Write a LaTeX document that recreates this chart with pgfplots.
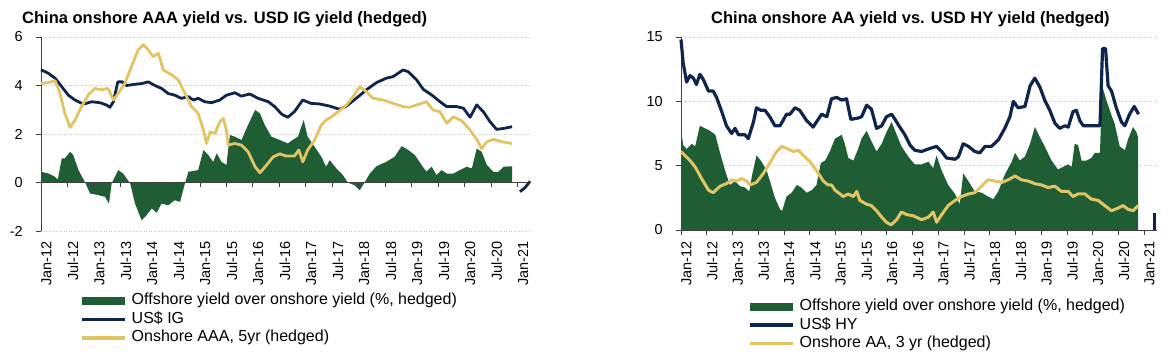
\documentclass[border=0pt]{standalone}
\usepackage{fontspec}
\setmainfont{Liberation Sans}
\usepackage{pgfplots}
\pgfplotsset{compat=1.18}
\definecolor{dgreen}{RGB}{31,94,52}
\definecolor{navy}{RGB}{16,37,77}
\definecolor{gold}{RGB}{227,196,100}
\definecolor{gridc}{RGB}{200,200,200}
\pgfplotsset{
  base/.style={
    scale only axis, anchor=south west, clip=false,
    xmin=0, xmax=111,
    xtick={0,6,...,108},
    xticklabels={Jan-12,Jul-12,Jan-13,Jul-13,Jan-14,Jul-14,Jan-15,Jul-15,Jan-16,Jul-16,Jan-17,Jul-17,Jan-18,Jul-18,Jan-19,Jul-19,Jan-20,Jul-20,Jan-21},
    ymajorgrids, grid style={gridc, dash pattern=on 1pt off 1.5pt, line width=0.8pt},
    tick label style={font=\fontsize{14.5}{16}\selectfont},
    xticklabel style={rotate=90, anchor=north east, inner sep=0pt},
    yticklabel style={anchor=east, inner sep=0pt, xshift=-13pt},
    major tick length=5pt,
    axis line style={black!75, line width=0.8pt, -},
    tick style={black!75, line width=0.8pt},
    legend cell align=left,
    legend style={draw=none, fill=none, inner sep=0pt, row sep=2.5pt, column sep=5pt,
      font=\fontsize{16}{18}\selectfont, anchor=north west,
      nodes={inner sep=0pt, text height=12pt, text depth=4pt}},
  },
  arealeg/.style={legend image code/.code={\fill[dgreen] (0pt,-4pt) rectangle (43pt,4pt);}},
  lineleg/.style={legend image code/.code={\draw[line width=3.5pt] (0pt,0pt) -- (43pt,0pt);}},
}
\begin{document}
\begin{tikzpicture}
\path[use as bounding box] (0,0) rectangle (1175pt,363pt);
% ---------------- Left chart ----------------
\begin{axis}[base, at={(41pt,132pt)}, width=490pt, height=194pt,
  ymin=-2, ymax=6, ytick={-2,0,2,4,6}, yticklabels={-2,0,2,4,6},
  axis x line*=bottom, axis y line*=left,
  x axis line style={draw=none}, xtick style={draw=none},
  xtick align=inside, ytick align=outside,
  xticklabel shift=10pt,
  legend style={at={(0.0796,-0.3175)}}]
\addplot[fill=dgreen, draw=none, arealeg] coordinates {
(0,0)(0,0.44)(1.7,0.37)(3.2,0.23)(3.8,0.12)(4.7,0.99)(5.4,0.99)(6.6,1.27)(7.3,1.13)(8.5,0.51)(10,0)(11.1,-0.45)(13,-0.52)(14.5,-0.59)(15.4,-0.87)(16,-0.04)(17.5,0.51)(18.6,0.37)(20.2,-0.04)(21.3,-0.87)(22.8,-1.56)(23.9,-1.35)(25.1,-1.07)(26.2,-1.25)(27.3,-0.87)(28.8,-0.94)(30.3,-0.73)(31.5,-0.8)(32.6,-0.04)(33.4,0.44)(35.6,0.51)(36.8,1.34)(37.9,1.13)(39,0.85)(39.8,1.2)(40.9,0.85)(42,0.72)(42.8,1.96)(43.9,1.89)(45.4,1.75)(46.9,2.37)(48.5,2.99)(49.6,2.85)(50.7,2.37)(52.2,1.89)(54.1,1.75)(55.9,1.61)(57,1.75)(58.2,1.89)(59.5,2.58)(60.4,1.89)(62,1.47)(63.5,1.06)(64.6,0.65)(65.4,0.92)(66.9,0.58)(68.4,0.3)(69.5,0)(71,-0.11)(72.2,-0.32)(73.3,0)(74.5,0.37)(76,0.67)(78.2,0.85)(80.1,1.06)(81.7,1.5)(83.2,1.34)(84.7,1.13)(86.2,0.72)(87.3,0.45)(88.5,0.65)(89.6,0.3)(90.7,0.51)(91.9,0.37)(93.4,0.37)(94.9,0.51)(96.4,0.65)(97.6,0.58)(98.7,1.4)(99.8,1.27)(101,0.72)(102.5,0.44)(103.6,0.44)(104.8,0.65)(106.7,0.67)(106.7,0)} -- cycle;
\addlegendentry{Offshore yield over onshore yield (\%, hedged)}
\addplot[navy, line width=2.8pt, line join=round, lineleg] coordinates {
(0,4.65)(1.7,4.5)(3.2,4.3)(4.7,3.95)(6.2,3.6)(7.7,3.4)(9.6,3.23)(11.5,3.33)(13.4,3.29)(14.9,3.19)(15.6,3.1)(16.4,3.33)(17.4,4.15)(18.4,4.15)(19.4,4.0)(21.3,4.05)(22.8,4.08)(24.3,4.15)(25.8,4.0)(27.3,3.88)(28.8,3.67)(30.3,3.6)(31.8,3.47)(33.4,3.54)(34.5,3.4)(35.6,3.47)(37.1,3.33)(38.6,3.29)(40.5,3.4)(42,3.6)(43.9,3.7)(45.4,3.56)(47.3,3.65)(49.2,3.47)(51.5,3.33)(53,3.12)(54.5,2.82)(55.9,2.69)(57.4,2.92)(59.3,3.4)(61.2,3.26)(63.1,3.24)(65.4,3.15)(67.6,3.02)(69.2,3.15)(71.4,3.47)(73.7,3.82)(76,4.12)(78.2,4.3)(79.8,4.37)(82,4.64)(83.2,4.57)(85.1,4.23)(86.6,3.84)(88.5,3.61)(90.4,3.33)(91.9,3.13)(94.2,3.13)(95.7,3.06)(97.2,2.69)(98.7,3.2)(100.2,2.92)(101.7,2.51)(103.2,2.19)(104.8,2.23)(106.7,2.3)};
\addlegendentry{US\$ IG}
\addplot[gold, line width=2.8pt, line join=round, lineleg] coordinates {
(0,4.09)(1.7,4.12)(3.2,4.2)(4.3,3.68)(5.4,2.85)(6.6,2.27)(7.7,2.58)(9.2,3.13)(10.7,3.61)(12.2,3.88)(13.7,3.82)(15.2,3.88)(16.4,3.4)(17.5,3.68)(19,4.09)(20.5,4.78)(22,5.47)(23.2,5.68)(24.3,5.47)(25.4,5.19)(26.6,5.33)(27.7,4.64)(29.6,4.44)(31.1,4.23)(32.6,3.68)(34.1,3.13)(35.6,2.85)(36.8,2.16)(37.5,1.61)(38.3,2.09)(39.4,2.02)(40.5,2.5)(41.3,2.64)(42,2.16)(42.4,1.54)(43.9,1.61)(45.4,1.54)(46.9,1.27)(48.5,0.65)(49.6,0.4)(51.1,0.72)(52.6,1.06)(54.1,1.18)(55.5,1.09)(57.4,1.09)(58.4,1.34)(59.3,0.85)(60.4,1.34)(62,1.75)(63.5,2.37)(64.6,2.58)(65.7,2.69)(67.3,2.92)(69.2,3.2)(70.7,3.54)(72.2,3.95)(73.7,3.75)(75.2,3.47)(77.5,3.4)(79.8,3.26)(82,3.13)(83.5,3.1)(85.1,3.2)(87.3,3.33)(88.8,2.99)(90.4,2.92)(91.9,2.44)(93.4,2.71)(95.3,2.55)(97.2,2.16)(98.7,1.78)(99.8,1.4)(101,1.68)(102.5,1.78)(104.4,1.68)(106.7,1.61)};
\addlegendentry{Onshore AAA, 5yr (hedged)}
\addplot[navy, line width=2.8pt, line join=round, forget plot] coordinates {(108.5,-0.38)(109.6,-0.22)(110.8,0.05)};
\end{axis}
% zero line with ticks (left chart)
\begin{axis}[scale only axis, anchor=south west, at={(41pt,132pt)}, width=490pt, height=194pt,
  xmin=0, xmax=111, ymin=-2, ymax=6,
  axis x line=middle, axis y line=none, hide obscured x ticks=false,
  xtick={0,6,...,108}, xticklabels={}, ytick=\empty,
  major tick length=5pt, xtick align=outside,
  axis line style={black!75, line width=0.8pt, -},
  every inner x axis line/.append style={-},
  tick style={black!75, line width=0.8pt}]
\end{axis}
\node[anchor=base west, inner sep=0pt, font=\bfseries\fontsize{16.5}{18}\selectfont] at (22pt,339pt) {China onshore AAA yield vs. USD IG yield (hedged)};
% ---------------- Right chart ----------------
\begin{axis}[base, at={(681pt,133pt)}, width=476pt, height=193pt,
  ymin=0, ymax=15, ytick={0,5,10,15}, yticklabels={0,5,10,15},
  axis x line*=bottom, axis y line*=left,
  tick align=outside,
  xticklabel shift=6pt,
  legend style={at={(0.1408,-0.355)}}]
\addplot[fill=dgreen, draw=none, arealeg] coordinates {
(0,0)(0,7.9)(0.5,6.6)(1.3,6.3)(2.5,6.7)(3.3,6.5)(4.4,8.1)(5.6,7.9)(6.8,7.7)(8,7.4)(9.1,6.0)(10.3,4.6)(11.4,3.5)(12.6,3.8)(13.8,3.4)(14.9,3.3)(15.9,3.0)(16.6,4.3)(17.6,5.8)(18.8,5.3)(20,4.6)(21.1,3.4)(21.9,2.5)(23.1,1.6)(23.6,1.5)(24.6,2.6)(25.8,2.9)(27,3.5)(28.1,3.3)(29.3,2.9)(30.5,3.1)(31.6,3.5)(32.6,5.2)(33.6,5.4)(34.7,6.1)(35.9,7.1)(37.5,7.4)(38.2,6.7)(39,5.6)(40.2,5.4)(41.3,6.3)(42.1,7.1)(43.3,7.7)(44.4,6.9)(45.6,6.1)(46.8,6.7)(47.9,7.6)(49.1,8.4)(50.3,7.4)(51.4,6.5)(53,5.7)(54.5,5.1)(56.1,5.1)(57.7,5.3)(58.8,4.8)(59.6,5.8)(60.8,4.6)(62.3,3.5)(63.9,2.8)(65,2.0)(65.8,4.4)(67,3.8)(68.5,3.0)(70.1,2.9)(71.6,2.6)(72.8,2.4)(74,3.0)(75.5,4.3)(77.1,5.3)(77.9,6.0)(79,5.4)(80.2,5.7)(81.4,6.7)(82.5,8.0)(83.7,7.2)(84.8,6.5)(86.4,5.4)(87.9,4.7)(89.1,4.9)(90.3,5.1)(91.1,4.9)(91.8,6.7)(92.6,6.6)(93.4,5.4)(94.6,5.4)(95.7,5.6)(96.5,6.0)(97.7,6.0)(98.2,11.2)(99.2,10.1)(100.4,8.9)(101.1,8.3)(102.3,6.5)(103.5,6.2)(104.3,7.1)(105.4,8.0)(106.2,7.6)(106.6,7.2)(106.6,0)} -- cycle;
\addlegendentry{Offshore yield over onshore yield (\%, hedged)}
\addplot[navy, line width=3.2pt, line join=round, lineleg] coordinates {
(0,14.8)(0.5,13.0)(1.3,11.5)(2.1,12.0)(2.9,11.8)(3.6,11.3)(4.4,12.1)(5.2,11.7)(6.4,10.8)(7.5,10.8)(8.3,10.3)(9.5,9.2)(10.6,8.1)(11.8,7.5)(12.6,7.9)(13.4,7.4)(14.1,7.4)(14.9,7.4)(15.7,7.1)(16.9,8.4)(17.6,9.5)(18.6,9.3)(19.6,9.3)(20.7,8.8)(21.9,8.1)(23.1,8.1)(24.6,9.0)(25.4,9.0)(26.6,9.5)(27.7,9.3)(29.3,8.5)(30.8,8.0)(32,8.6)(32.8,9.0)(34,8.8)(35.1,10.2)(36.3,10.3)(37.5,10.1)(38.6,10.2)(39.6,8.6)(41.3,8.7)(42.1,8.8)(43.3,9.7)(44.4,9.4)(45.6,7.9)(46.8,8.1)(47.9,8.8)(49.1,9.0)(49.9,8.6)(51,8.0)(52.2,7.4)(53.4,6.6)(54.5,6.2)(56.1,6.1)(57.7,6.3)(59.6,6.5)(60.8,6.1)(61.9,5.6)(63.9,5.5)(64.7,5.7)(65.8,6.7)(67,6.5)(68.5,6.1)(69.7,6.0)(70.9,6.5)(72.4,6.5)(74,7.0)(75.5,7.9)(76.7,8.8)(77.5,10.0)(78.6,9.5)(80.2,9.6)(81.4,11.2)(82.5,11.8)(83.7,11.1)(84.8,10.1)(86,9.3)(87.2,8.3)(88.3,7.9)(89.5,8.1)(90.3,8.0)(91.4,9.2)(92.2,9.3)(93,8.5)(93.8,8.1)(95.3,8.1)(96.5,8.1)(97.7,8.1)(98.3,14.1)(99,14.1)(99.6,11.2)(100.4,10.8)(101.5,9.5)(102.7,8.4)(103.5,8.1)(104.6,9.0)(105.7,9.6)(106.7,9.0)};
\addlegendentry{US\$ HY}
\addplot[gold, line width=3pt, line join=round, lineleg] coordinates {
(0,6.1)(0.9,5.8)(2.1,5.4)(3.3,4.9)(4.8,4.0)(6.4,3.1)(7.5,2.9)(9.1,3.4)(10.6,3.6)(11.8,3.9)(13,3.8)(14.1,4.0)(15.3,3.8)(16.1,3.5)(17.6,3.7)(19.2,4.4)(20.7,5.2)(22.3,6.1)(23.5,6.5)(25,6.3)(26.2,6.1)(27.4,6.2)(28.5,5.8)(30.1,5.3)(31.6,4.6)(33.2,3.8)(34.3,3.5)(35.1,3.5)(35.9,3.1)(37.1,2.8)(37.8,2.6)(39,2.8)(40.2,2.6)(41,3.0)(41.7,2.3)(43.3,2.0)(44.4,1.9)(45.6,1.5)(46.8,1.0)(47.9,0.6)(49,0.4)(50.3,0.8)(51.4,1.4)(52.6,1.2)(54.2,1.1)(56.1,0.8)(57.7,1.0)(58.8,1.4)(59.6,0.6)(60.8,1.2)(62.3,1.9)(63.9,2.3)(65.4,2.6)(67,2.8)(68.5,2.9)(70.1,3.4)(71.6,3.9)(73.2,3.8)(74.8,3.7)(76.3,3.9)(77.9,4.2)(79.4,3.9)(81,3.8)(82.5,3.6)(84.1,3.5)(85.6,3.3)(87.2,3.4)(88.7,3.0)(90.3,3.0)(91.4,2.6)(92.6,2.8)(94.2,2.8)(95.7,2.4)(97.3,2.3)(98.8,1.9)(100.4,1.5)(101.9,1.7)(103.1,1.9)(104.3,1.6)(105.4,1.5)(106.6,1.9)};
\addlegendentry{Onshore AA, 3 yr (hedged)}
\addplot[navy, line width=2.5pt, forget plot] coordinates {(110.4,1.3)(110.4,0)};
\end{axis}
\node[anchor=base west, inner sep=0pt, font=\bfseries\fontsize{16.5}{18}\selectfont] at (711pt,339pt) {China onshore AA yield vs. USD HY yield (hedged)};
\end{tikzpicture}
\end{document}
